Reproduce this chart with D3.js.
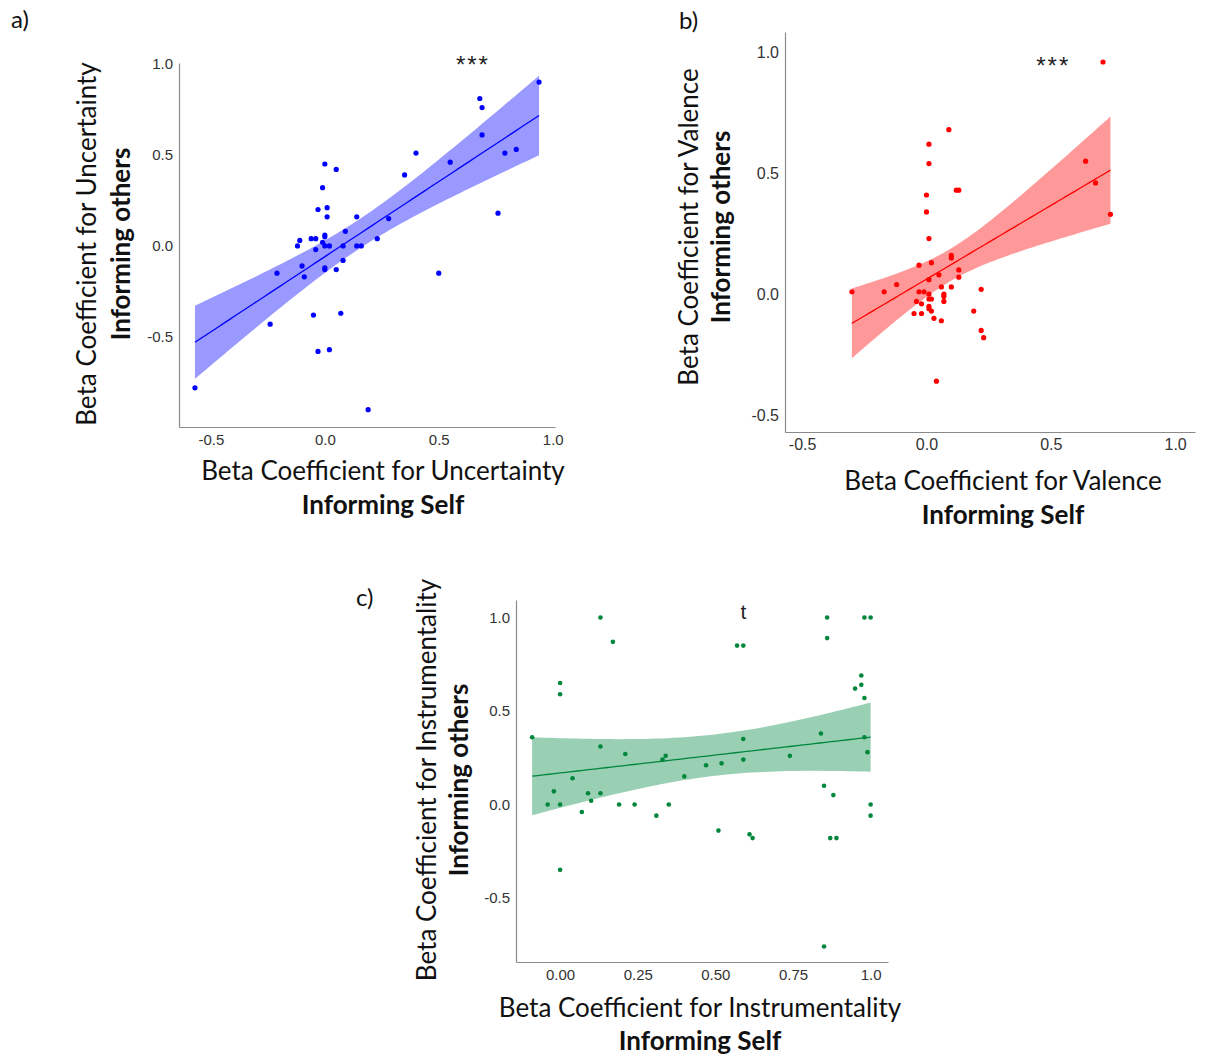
<!DOCTYPE html>
<html>
<head>
<meta charset="utf-8">
<script src="https://cdn.jsdelivr.net/npm/d3@7"></script>
<style>
    body { margin:0; background:white; }
    svg { display:block; }
</style>
</head>
<body>
<svg id="chart" width="1208" height="1059"></svg>
<script>
// ---- data ----
const uncertaintySelf = [0.94,0.68,0.69,0.69,0.79,0.84,0.55,0.40,0.35,0.76,0.50,0.28,0.23,0.14,0.14,0.16,0.09,0.08,0.08,0.05,0.00,-0.01,0.01,-0.03,0.01,0.00,0.00,-0.01,0.00,0.02,-0.04,-0.06,-0.11,-0.12,-0.04,0.00,0.00,0.05,-0.10,-0.09,-0.21,-0.05,0.07,-0.24,-0.03,0.02,0.19,-0.57];
const uncertaintyOthers = [0.90,0.81,0.76,0.61,0.51,0.53,0.46,0.51,0.39,0.18,-0.15,0.15,0.04,0.16,0.00,0.00,0.08,0.00,-0.08,0.42,0.45,0.32,0.21,0.20,0.16,0.06,0.05,0.02,0.00,0.00,0.04,0.04,0.03,0.00,-0.02,-0.12,-0.13,-0.13,-0.11,-0.17,-0.15,-0.38,-0.37,-0.43,-0.58,-0.57,-0.90,-0.78];

const valenceSelf = [0.71,0.09,0.01,0.01,0.00,0.00,0.01,0.12,0.13,0.64,0.68,0.74,0.10,0.10,0.02,-0.03,0.13,0.13,0.05,0.01,0.10,0.06,0.22,-0.12,-0.17,-0.30,-0.03,-0.01,0.01,0.02,0.01,0.07,0.07,0.07,-0.04,-0.02,0.01,0.01,0.02,-0.05,-0.02,0.03,0.06,0.19,0.22,0.23,0.04];
const valenceOthers = [0.96,0.68,0.62,0.54,0.41,0.34,0.23,0.43,0.43,0.55,0.46,0.33,0.16,0.15,0.13,0.12,0.10,0.07,0.08,0.06,0.03,0.03,0.02,0.04,0.01,0.01,0.01,0.01,0.00,-0.02,-0.02,0.00,-0.01,-0.03,-0.03,-0.04,-0.05,-0.06,-0.07,-0.08,-0.08,-0.10,-0.11,-0.07,-0.15,-0.18,-0.36];

const instrumentalitySelf = [0.13,0.17,0.00,0.00,-0.09,0.13,0.21,0.34,0.33,0.04,-0.02,0.09,0.13,0.10,-0.04,0.00,0.07,0.19,0.24,0.35,0.31,0.40,0.47,0.52,0.51,0.57,0.59,0.59,0.59,0.61,0.62,0.74,0.84,0.86,0.86,0.85,0.88,0.87,0.89,0.85,0.98,1.00,0.97,0.97,0.95,0.98,0.98,0.99,1.00,1.00,0.00];
const instrumentalityOthers = [1.00,0.87,0.65,0.59,0.36,0.31,0.27,0.26,0.24,0.14,0.07,0.06,0.06,0.02,0.00,0.00,-0.04,0.00,0.00,0.00,-0.06,0.15,0.21,0.22,-0.14,0.85,0.85,0.35,0.24,-0.16,-0.18,0.26,0.38,1.00,0.89,0.10,0.05,-0.18,-0.18,-0.76,1.00,1.00,0.69,0.64,0.62,0.57,0.36,0.28,0.00,-0.06,-0.35];

// ticks
const halfTicks = [-0.5, 0, 0.5, 1.0];
const halfTickLabels = ["-0.5", "0.0", "0.5", "1.0"];
const quarterTicks = [0, 0.25, 0.5, 0.75, 1.0];
const quarterTickLabels = ["0.00", "0.25", "0.50", "0.75", "1.0"];

const TITLE_FONT = "Lato, 'Open Sans', sans-serif";
const TITLE_SIZE = 26;
const TICK_FONT = "'Liberation Sans', Arial, sans-serif";
const AXIS_GREY = "#8a8a8a";

// OLS fit + 95% confidence band
function linearFit(xs, ys, steps = 60){
    const n = xs.length;
    const mx = d3.mean(xs), my = d3.mean(ys);
    let sxx = 0, sxy = 0;
    xs.forEach((v,i) => { sxx += (v - mx) ** 2; sxy += (v - mx) * (ys[i] - my); });
    const b = sxy / sxx;
    const a = my - b * mx;
    const sse = d3.sum(xs, (v,i) => (ys[i] - (a + b * v)) ** 2);
    const s = Math.sqrt(sse / (n - 2));
    const tcrit = 2.012;
    const [lo, hi] = d3.extent(xs);
    return d3.range(steps + 1).map(i => {
        const v = lo + (hi - lo) * i / steps;
        const yh = a + b * v;
        const se = s * Math.sqrt(1 / n + (v - mx) ** 2 / sxx);
        return { x:v, y:yh, lo:yh - tcrit * se, hi:yh + tcrit * se };
    });
}

function scatterPanel(){
    let left = 0, top = 0, width = 300, height = 300;
    let xDomain = [-1,1], yDomain = [-1,1];
    let xTicks = halfTicks, xTickLabels = halfTickLabels;
    let yTicks = halfTicks, yTickLabels = halfTickLabels;
    let colour = "blue", bandFill = "#9999ff";
    let radius = 2.6;
    let tickFontSize = 15;
    let note = { text:"", x:0, y:0, size:22, spacing:0 };

    function panel(selection){
        selection.each(function(data){
            const { xs, ys } = data;
            const g = d3.select(this).append("g")
                .attr("transform", `translate(${left},${top})`);

            const x = d3.scaleLinear().domain(xDomain).range([0, width]);
            const y = d3.scaleLinear().domain(yDomain).range([height, 0]);

            const fit = linearFit(xs, ys);

            //band
            g.append("path")
                .datum(fit)
                .attr("fill", bandFill)
                .attr("d", d3.area().x(d => x(d.x)).y0(d => y(d.lo)).y1(d => y(d.hi)));

            //fit line
            g.append("path")
                .datum(fit)
                .attr("fill", "none")
                .attr("stroke", colour)
                .attr("stroke-width", 1.3)
                .attr("d", d3.line().x(d => x(d.x)).y(d => y(d.y)));

            //points
            g.selectAll("circle.pt")
                .data(xs.map((v,i) => [v, ys[i]]))
                .enter()
                .append("circle")
                    .attr("class", "pt")
                    .attr("cx", d => x(d[0]))
                    .attr("cy", d => y(d[1]))
                    .attr("r", radius)
                    .attr("fill", colour);

            //axes
            const xAxisG = g.append("g")
                .attr("transform", `translate(0,${height})`)
                .call(d3.axisBottom(x)
                    .tickValues(xTicks)
                    .tickFormat((d,i) => xTickLabels[i])
                    .tickSize(0)
                    .tickSizeOuter(0)
                    .tickPadding(7));

            const yAxisG = g.append("g")
                .call(d3.axisLeft(y)
                    .tickValues(yTicks)
                    .tickFormat((d,i) => yTickLabels[i])
                    .tickSize(0)
                    .tickSizeOuter(0)
                    .tickPadding(6));

            [xAxisG, yAxisG].forEach(axG => {
                axG.select("path.domain").attr("stroke", AXIS_GREY).attr("stroke-width", 1.2);
                axG.selectAll("text")
                    .attr("fill", "#333")
                    .attr("font-family", TICK_FONT)
                    .attr("font-size", tickFontSize);
            });

            //significance mark
            if(note.text){
                g.append("text")
                    .attr("x", x(note.x))
                    .attr("y", y(note.y))
                    .attr("text-anchor", "middle")
                    .attr("font-family", TICK_FONT)
                    .attr("font-size", note.size)
                    .attr("letter-spacing", note.spacing)
                    .attr("fill", "#222")
                    .text(note.text);
            }
        });
        return selection;
    }

    //api
    panel.position = function(l, t){ left = l; top = t; return panel; };
    panel.size = function(w, h){ width = w; height = h; return panel; };
    panel.domains = function(xd, yd){ xDomain = xd; yDomain = yd; return panel; };
    panel.xTicks = function(vals, labels){ xTicks = vals; xTickLabels = labels; return panel; };
    panel.yTicks = function(vals, labels){ yTicks = vals; yTickLabels = labels; return panel; };
    panel.colours = function(c, band){ colour = c; bandFill = band; return panel; };
    panel.radius = function(value){ radius = value; return panel; };
    panel.tickFontSize = function(value){ tickFontSize = value; return panel; };
    panel.note = function(value){ note = { ...note, ...value }; return panel; };

    return panel;
}

function titles(svg, { letter, letterPos, xTitle, xPos, yTitle, yPos }){
    svg.append("text")
        .attr("x", letterPos[0]).attr("y", letterPos[1])
        .attr("font-family", TITLE_FONT).attr("font-size", 24).attr("fill", "#111")
        .text(letter);

    const xg = svg.append("g").attr("font-family", TITLE_FONT).attr("fill", "#111").attr("text-anchor", "middle");
    xg.append("text").attr("x", xPos[0]).attr("y", xPos[1]).attr("font-size", TITLE_SIZE).text(xTitle);
    xg.append("text").attr("x", xPos[0]).attr("y", xPos[2]).attr("font-size", TITLE_SIZE).attr("font-weight", "bold").text("Informing Self");

    const yg = svg.append("g").attr("font-family", TITLE_FONT).attr("fill", "#111").attr("text-anchor", "middle");
    yg.append("text").attr("transform", `translate(${yPos[1]},${yPos[0]}) rotate(-90)`).attr("font-size", TITLE_SIZE).text(yTitle);
    yg.append("text").attr("transform", `translate(${yPos[2]},${yPos[0]}) rotate(-90)`).attr("font-size", TITLE_SIZE).attr("font-weight", "bold").text("Informing others");
}

const svg = d3.select("#chart");
svg.append("rect").attr("width", 1208).attr("height", 1059).attr("fill", "white");

// a) uncertainty
svg.append("g")
    .datum({ xs:uncertaintySelf, ys:uncertaintyOthers })
    .call(scatterPanel()
        .position(179, 63).size(376, 364)
        .domains([-0.64, 1.01], [-0.995, 1.005])
        .colours("#0000ff", "#9999ff")
        .note({ text:"***", x:0.65, y:0.95, size:24, spacing:2 }));

titles(svg, {
    letter:"a)", letterPos:[11, 28],
    xTitle:"Beta Coefficient for Uncertainty", xPos:[383, 480, 514],
    yTitle:"Beta Coefficient for Uncertainty", yPos:[244, 96, 130]
});

// b) valence
svg.append("g")
    .datum({ xs:valenceSelf, ys:valenceOthers })
    .call(scatterPanel()
        .position(785, 32).size(410, 400)
        .domains([-0.569, 1.080], [-0.570, 1.084])
        .colours("#ff0000", "#ff9999")
        .tickFontSize(16)
        .note({ text:"***", x:0.51, y:0.91, size:24, spacing:2 }));

titles(svg, {
    letter:"b)", letterPos:[679, 29],
    xTitle:"Beta Coefficient for Valence", xPos:[1003, 490, 524],
    yTitle:"Beta Coefficient for Valence", yPos:[227, 698, 730]
});

// c) instrumentality
svg.append("g")
    .datum({ xs:instrumentalitySelf, ys:instrumentalityOthers })
    .call(scatterPanel()
        .position(516, 600).size(372, 362)
        .domains([-0.142, 1.056], [-0.843, 1.094])
        .xTicks(quarterTicks, quarterTickLabels)
        .colours("#00873c", "#99cfb2")
        .radius(2.3)
        .note({ text:"t", x:0.59, y:0.99, size:21, spacing:0 }));

titles(svg, {
    letter:"c)", letterPos:[356, 606],
    xTitle:"Beta Coefficient for Instrumentality", xPos:[700, 1017, 1050],
    yTitle:"Beta Coefficient for Instrumentality", yPos:[780, 436, 468]
});
</script>
</body>
</html>
